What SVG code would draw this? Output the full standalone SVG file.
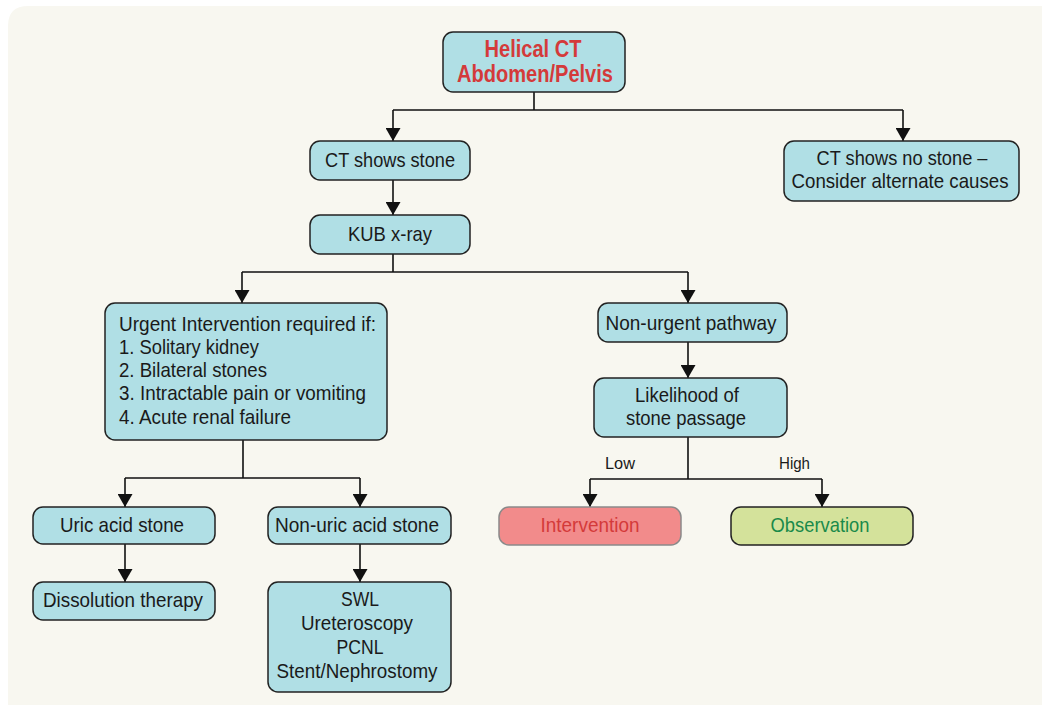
<svg xmlns="http://www.w3.org/2000/svg" width="1042" height="705" viewBox="0 0 1042 705">
<defs>
<marker id="ah" viewBox="0 0 13 15" refX="13" refY="7.5" markerWidth="13" markerHeight="15" markerUnits="userSpaceOnUse" orient="auto">
<path d="M0,0 L13,7.5 L0,15 Z" fill="#111"/>
</marker>
<style>
.n{fill:#b0dfe5;stroke:#222;stroke-width:1.5}
.t{font-family:"Liberation Sans",Arial,sans-serif;font-size:21px;fill:#1a1a1a}
.c{text-anchor:middle}
.h{font-size:23px;font-weight:bold;fill:#d43a3a}
.s{font-size:16.5px}
.e{fill:none;stroke:#111;stroke-width:1.6}
</style>
</defs>
<rect x="0" y="0" width="1042" height="705" fill="#ffffff"/>
<path d="M28,6 H1042 V705 H8 V26 Q8,6 28,6 Z" fill="#f8f7f0"/>
<g id="connectors">
<path class="e" d="M534,92 V110 M393,110 H903"/>
<path class="e" d="M393,110 V141" marker-end="url(#ah)"/>
<path class="e" d="M903,110 V141" marker-end="url(#ah)"/>
<path class="e" d="M393,180 V215" marker-end="url(#ah)"/>
<path class="e" d="M393,254 V272 M242,272 H688"/>
<path class="e" d="M242,272 V303" marker-end="url(#ah)"/>
<path class="e" d="M688,272 V303" marker-end="url(#ah)"/>
<path class="e" d="M688,342 V378" marker-end="url(#ah)"/>
<path class="e" d="M688,437 V479 M590,479 H822"/>
<path class="e" d="M590,479 V507" marker-end="url(#ah)"/>
<path class="e" d="M822,479 V507" marker-end="url(#ah)"/>
<path class="e" d="M243,440 V478 M125,478 H360"/>
<path class="e" d="M125,478 V507" marker-end="url(#ah)"/>
<path class="e" d="M360,478 V507" marker-end="url(#ah)"/>
<path class="e" d="M125,544 V582" marker-end="url(#ah)"/>
<path class="e" d="M360,544 V582" marker-end="url(#ah)"/>
<text class="t s" x="605" y="469" textLength="30" lengthAdjust="spacingAndGlyphs">Low</text>
<text class="t s" x="779" y="469" textLength="31" lengthAdjust="spacingAndGlyphs">High</text>
</g>
<g id="helical">
<rect class="n" x="443" y="32" width="182" height="60" rx="10"/>
<text class="t c h" x="533" y="57" textLength="97" lengthAdjust="spacingAndGlyphs">Helical CT</text>
<text class="t c h" x="535" y="82" textLength="156" lengthAdjust="spacingAndGlyphs">Abdomen/Pelvis</text>
</g>
<g id="ct-stone">
<rect class="n" x="310" y="141" width="160" height="39" rx="10"/>
<text class="t c" x="390" y="167" textLength="130" lengthAdjust="spacingAndGlyphs">CT shows stone</text>
</g>
<g id="ct-nostone">
<rect class="n" x="784" y="141" width="235" height="60" rx="10"/>
<text class="t c" x="902" y="165" textLength="171" lengthAdjust="spacingAndGlyphs">CT shows no stone –</text>
<text class="t c" x="900" y="188" textLength="217" lengthAdjust="spacingAndGlyphs">Consider alternate causes</text>
</g>
<g id="kub">
<rect class="n" x="310" y="215" width="160" height="39" rx="10"/>
<text class="t c" x="390" y="241" textLength="84" lengthAdjust="spacingAndGlyphs">KUB x-ray</text>
</g>
<g id="urgent">
<rect class="n" x="105" y="303" width="282" height="137" rx="10"/>
<text class="t" x="119" y="331" textLength="257" lengthAdjust="spacingAndGlyphs">Urgent Intervention required if:</text>
<text class="t" x="119" y="354" textLength="140" lengthAdjust="spacingAndGlyphs">1. Solitary kidney</text>
<text class="t" x="119" y="377" textLength="148" lengthAdjust="spacingAndGlyphs">2. Bilateral stones</text>
<text class="t" x="119" y="400" textLength="247" lengthAdjust="spacingAndGlyphs">3. Intractable pain or vomiting</text>
<text class="t" x="119" y="424" textLength="172" lengthAdjust="spacingAndGlyphs">4. Acute renal failure</text>
</g>
<g id="nonurgent">
<rect class="n" x="598" y="303" width="189" height="39" rx="10"/>
<text class="t c" x="691" y="330" textLength="171" lengthAdjust="spacingAndGlyphs">Non-urgent pathway</text>
</g>
<g id="likelihood">
<rect class="n" x="594" y="378" width="193" height="59" rx="10"/>
<text class="t c" x="687" y="402" textLength="104" lengthAdjust="spacingAndGlyphs">Likelihood of</text>
<text class="t c" x="686" y="425" textLength="120" lengthAdjust="spacingAndGlyphs">stone passage</text>
</g>
<g id="intervention">
<rect x="499" y="507" width="182" height="38" rx="10" fill="#f28b8b" stroke="#8a8a8a" stroke-width="1.5"/>
<text class="t c" x="590" y="532" textLength="99" lengthAdjust="spacingAndGlyphs" style="fill:#d43a3a">Intervention</text>
</g>
<g id="observation">
<rect x="731" y="507" width="182" height="38" rx="10" fill="#d4e29b" stroke="#222" stroke-width="1.5"/>
<text class="t c" x="820" y="532" textLength="99" lengthAdjust="spacingAndGlyphs" style="fill:#1a8a4a">Observation</text>
</g>
<g id="uric">
<rect class="n" x="33" y="507" width="182" height="37" rx="10"/>
<text class="t c" x="122" y="532" textLength="124" lengthAdjust="spacingAndGlyphs">Uric acid stone</text>
</g>
<g id="nonuric">
<rect class="n" x="268" y="507" width="183" height="37" rx="10"/>
<text class="t c" x="357" y="532" textLength="164" lengthAdjust="spacingAndGlyphs">Non-uric acid stone</text>
</g>
<g id="dissolution">
<rect class="n" x="33" y="582" width="182" height="38" rx="10"/>
<text class="t c" x="123" y="607" textLength="160" lengthAdjust="spacingAndGlyphs">Dissolution therapy</text>
</g>
<g id="treatments">
<rect class="n" x="268" y="582" width="183" height="110" rx="10"/>
<text class="t c" x="360" y="606" textLength="38" lengthAdjust="spacingAndGlyphs">SWL</text>
<text class="t c" x="357" y="630" textLength="112" lengthAdjust="spacingAndGlyphs">Ureteroscopy</text>
<text class="t c" x="360" y="654" textLength="47" lengthAdjust="spacingAndGlyphs">PCNL</text>
<text class="t c" x="357" y="678" textLength="161" lengthAdjust="spacingAndGlyphs">Stent/Nephrostomy</text>
</g>
</svg>
